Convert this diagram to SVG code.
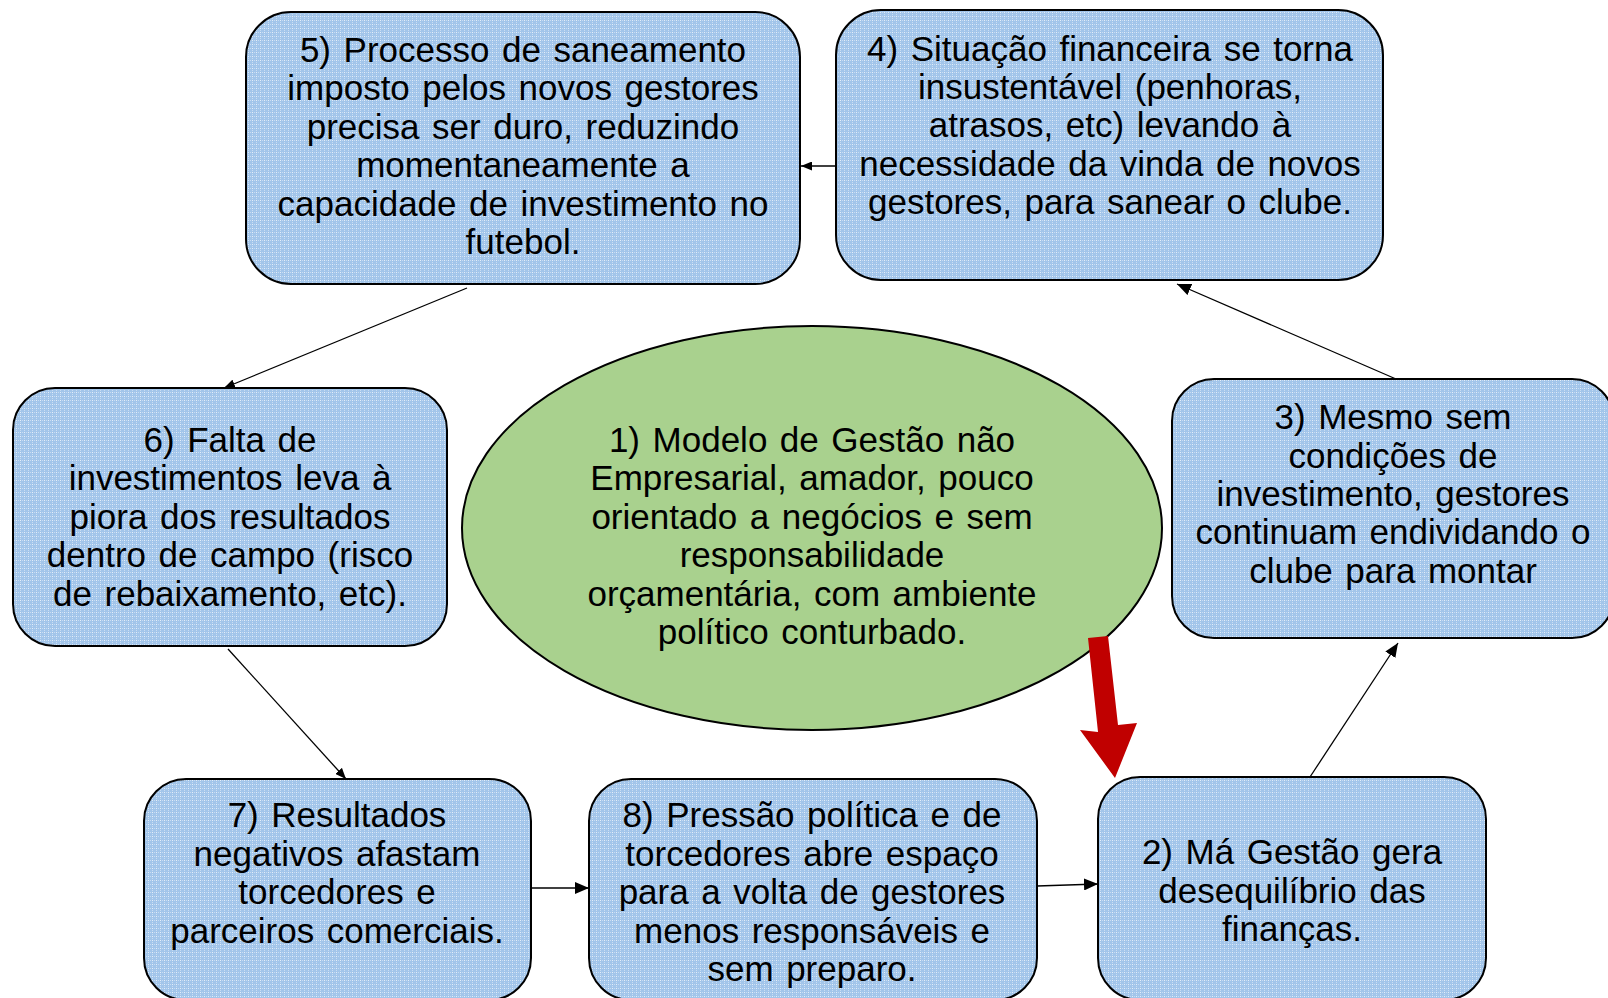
<svg xmlns="http://www.w3.org/2000/svg" width="1608" height="998" viewBox="0 0 1608 998">
<defs>
<pattern id="grid" width="4" height="4" patternUnits="userSpaceOnUse">
<rect width="4" height="4" fill="#A2C5EA"/>
<rect x="0" y="0" width="1" height="1" fill="#E4EEF9"/>
<rect x="2" y="0" width="1" height="1" fill="#C8DCF2"/>
<rect x="0" y="2" width="1" height="1" fill="#C8DCF2"/>
</pattern>
<marker id="ah" markerWidth="11" markerHeight="9" refX="11" refY="4.5" orient="auto" markerUnits="userSpaceOnUse">
<path d="M0,0 L11,4.5 L0,9 Z" fill="#000"/>
</marker>
<marker id="ah2" markerWidth="14" markerHeight="12" refX="14" refY="6" orient="auto" markerUnits="userSpaceOnUse">
<path d="M0,0 L14,6 L0,12 Z" fill="#000"/>
</marker>
</defs>
<style>
.box{fill:url(#grid);stroke:#000;stroke-width:2}
.t{font-family:"Liberation Sans",Arial,sans-serif;font-size:35px;word-spacing:2.8px;fill:#000;text-anchor:middle}
.c{stroke:#000;stroke-width:1.3;fill:none}
</style>
<rect width="1608" height="998" fill="#fff"/>
<g id="connectors">
<line class="c" x1="836" y1="166" x2="801" y2="166" marker-end="url(#ah)"/>
<line class="c" x1="467" y1="288" x2="224" y2="388" marker-end="url(#ah)"/>
<line class="c" x1="228" y1="649" x2="346" y2="779" marker-end="url(#ah)"/>
<line class="c" x1="531" y1="888" x2="589" y2="888" marker-end="url(#ah2)"/>
<line class="c" x1="1037" y1="886" x2="1098" y2="884" marker-end="url(#ah2)"/>
<line class="c" x1="1310" y1="777" x2="1398" y2="643" stroke-width="2.2" marker-end="url(#ah2)"/>
<line class="c" x1="1396" y1="379" x2="1177" y2="284" marker-end="url(#ah2)"/>
</g>
<g id="n1">
<ellipse cx="812" cy="528" rx="350" ry="202" fill="#A9D18E" stroke="#000" stroke-width="2"/>
<text class="t" x="812"><tspan x="812" y="452">1) Modelo de Gestão não</tspan><tspan x="812" y="490">Empresarial, amador, pouco</tspan><tspan x="812" y="529">orientado a negócios e sem</tspan><tspan x="812" y="567">responsabilidade</tspan><tspan x="812" y="606">orçamentária, com ambiente</tspan><tspan x="812" y="644">político conturbado.</tspan></text>
</g>
<g id="n5">
<rect class="box" x="246" y="12" width="554" height="272" rx="45"/>
<text class="t"><tspan x="523" y="62">5) Processo de saneamento</tspan><tspan x="523" y="100">imposto pelos novos gestores</tspan><tspan x="523" y="139">precisa ser duro, reduzindo</tspan><tspan x="523" y="177">momentaneamente a</tspan><tspan x="523" y="216">capacidade de investimento no</tspan><tspan x="523" y="254">futebol.</tspan></text>
</g>
<g id="n4">
<rect class="box" x="836" y="10" width="547" height="270" rx="45"/>
<text class="t"><tspan x="1110" y="61">4) Situação financeira se torna</tspan><tspan x="1110" y="99">insustentável (penhoras,</tspan><tspan x="1110" y="137">atrasos, etc) levando à</tspan><tspan x="1110" y="176">necessidade da vinda de novos</tspan><tspan x="1110" y="214">gestores, para sanear o clube.</tspan></text>
</g>
<g id="n6">
<rect class="box" x="13" y="388" width="434" height="258" rx="42"/>
<text class="t"><tspan x="230" y="452">6) Falta de</tspan><tspan x="230" y="490">investimentos leva à</tspan><tspan x="230" y="529">piora dos resultados</tspan><tspan x="230" y="567">dentro de campo (risco</tspan><tspan x="230" y="606">de rebaixamento, etc).</tspan></text>
</g>
<g id="n3">
<rect class="box" x="1172" y="379" width="442" height="259" rx="42"/>
<text class="t"><tspan x="1393" y="429">3) Mesmo sem</tspan><tspan x="1393" y="468">condições de</tspan><tspan x="1393" y="506">investimento, gestores</tspan><tspan x="1393" y="544">continuam endividando o</tspan><tspan x="1393" y="583">clube para montar</tspan></text>
</g>
<g id="n7">
<rect class="box" x="144" y="779" width="387" height="221" rx="42"/>
<text class="t"><tspan x="337" y="827">7) Resultados</tspan><tspan x="337" y="866">negativos afastam</tspan><tspan x="337" y="904">torcedores e</tspan><tspan x="337" y="943">parceiros comerciais.</tspan></text>
</g>
<g id="n8">
<rect class="box" x="589" y="779" width="448" height="221" rx="42"/>
<text class="t"><tspan x="812" y="827">8) Pressão política e de</tspan><tspan x="812" y="866">torcedores abre espaço</tspan><tspan x="812" y="904">para a volta de gestores</tspan><tspan x="812" y="943">menos responsáveis e</tspan><tspan x="812" y="981">sem preparo.</tspan></text>
</g>
<g id="n2">
<rect class="box" x="1098" y="777" width="388" height="223" rx="42"/>
<text class="t"><tspan x="1292" y="864">2) Má Gestão gera</tspan><tspan x="1292" y="903">desequilíbrio das</tspan><tspan x="1292" y="941">finanças.</tspan></text>
</g>
<g id="redarrow">
<path d="M1088,638 L1108,636 L1118,725 L1137,723 L1115,778 L1080,730 L1098,732 Z" fill="#C00000"/>
</g>
</svg>
